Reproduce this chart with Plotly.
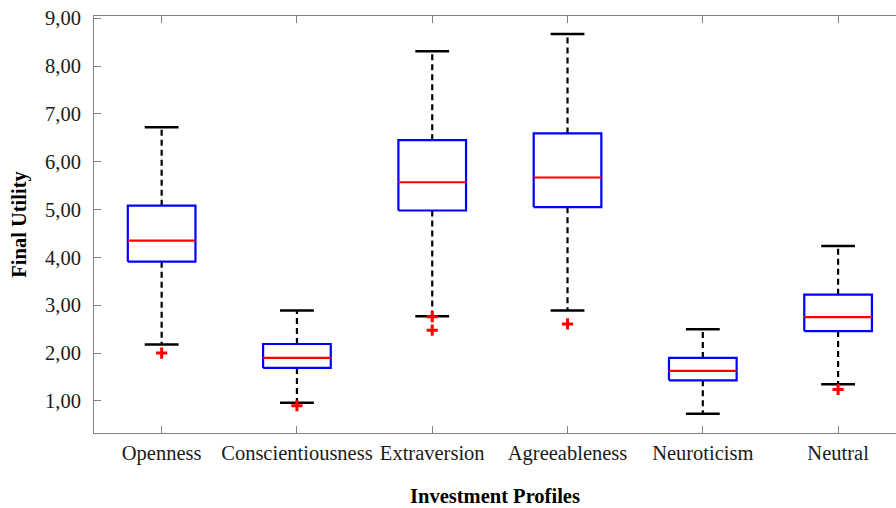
import plotly.graph_objects as go

categories = ["Openness", "Conscientiousness", "Extraversion", "Agreeableness", "Neuroticism", "Neutral"]
upper_whisker = [6.72, 2.89, 8.31, 8.67, 2.50, 4.24]
q3 = [5.08, 2.19, 6.45, 6.59, 1.90, 3.22]
median = [4.35, 1.90, 5.57, 5.67, 1.63, 2.75]
q1 = [3.91, 1.69, 4.98, 5.05, 1.43, 2.46]
lower_whisker = [2.18, 0.96, 2.77, 2.89, 0.73, 1.35]
outliers = [[2.00], [0.90], [2.76, 2.48], [2.61], [], [1.24]]

y_ticks = [1, 2, 3, 4, 5, 6, 7, 8, 9]
y_tick_labels = ["1,00", "2,00", "3,00", "4,00", "5,00", "6,00", "7,00", "8,00", "9,00"]

BOX_HALF = 0.25
CAP_HALF = 0.125
FONT = "Liberation Serif"

fig = go.Figure()

for i, name in enumerate(categories):
    x = i + 1
    # whiskers (dashed)
    fig.add_trace(go.Scatter(
        x=[x, x, None, x, x],
        y=[q3[i], upper_whisker[i], None, q1[i], lower_whisker[i]],
        mode="lines", line=dict(color="black", width=2.2, dash="6px,4px"),
        hoverinfo="skip", showlegend=False))
    # caps
    fig.add_trace(go.Scatter(
        x=[x - CAP_HALF, x + CAP_HALF, None, x - CAP_HALF, x + CAP_HALF],
        y=[upper_whisker[i], upper_whisker[i], None, lower_whisker[i], lower_whisker[i]],
        mode="lines", line=dict(color="black", width=2.5),
        hoverinfo="skip", showlegend=False))
    # box
    fig.add_trace(go.Scatter(
        x=[x - BOX_HALF, x + BOX_HALF, x + BOX_HALF, x - BOX_HALF, x - BOX_HALF],
        y=[q1[i], q1[i], q3[i], q3[i], q1[i]],
        mode="lines", line=dict(color="#0000ff", width=2.2),
        hoverinfo="skip", showlegend=False))
    # median
    fig.add_trace(go.Scatter(
        x=[x - BOX_HALF, x + BOX_HALF], y=[median[i], median[i]],
        mode="lines", line=dict(color="#ff0000", width=2.2),
        hoverinfo="skip", showlegend=False))
    # outliers
    if outliers[i]:
        fig.add_trace(go.Scatter(
            x=[x] * len(outliers[i]), y=outliers[i], mode="markers",
            marker=dict(symbol="cross-thin", size=8, line=dict(color="#ff0000", width=3)),
            hoverinfo="skip", showlegend=False))

axis_common = dict(
    showline=True, linecolor="#808080", linewidth=1,
    ticks="inside", ticklen=7, tickcolor="#808080", tickwidth=1,
    showgrid=False, zeroline=False, automargin=False,
    tickfont=dict(family=FONT, size=20.5, color="#1a1a1a"),
)

fig.update_layout(
    width=896, height=508,
    margin=dict(l=94, r=0, t=16, b=75),
    paper_bgcolor="white", plot_bgcolor="white",
    xaxis=dict(
        range=[0.5, 6.428],
        tickmode="array", tickvals=[1, 2, 3, 4, 5, 6], ticktext=categories,
        mirror="ticks", ticklabelstandoff=1,
        title=dict(text="<b>Investment Profiles</b>", font=dict(family=FONT, size=20.5, color="black"), standoff=25),
        **axis_common),
    yaxis=dict(
        range=[0.33, 9.045],
        tickmode="array", tickvals=y_ticks, ticktext=y_tick_labels,
        ticklabelstandoff=8,
        title=dict(text="<b>Final Utility</b>", font=dict(family=FONT, size=20.5, color="black"), standoff=12),
        **axis_common),
)

fig.write_html("out.html", config={"displayModeBar": False},
               post_script="document.body.style.margin='0';")
